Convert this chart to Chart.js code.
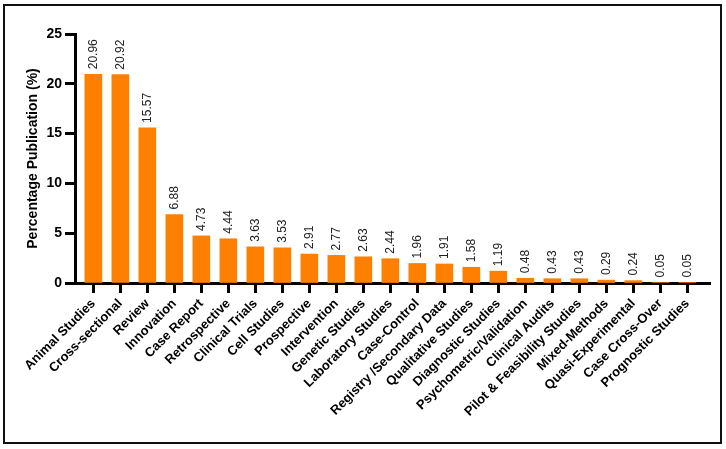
<!DOCTYPE html>
<html>
<head>
<meta charset="utf-8">
<script src="https://cdn.jsdelivr.net/npm/chart.js@4/dist/chart.umd.min.js"></script>
<style>
html,body{margin:0;padding:0;background:#fff}
#wrap{position:relative;width:726px;height:449px}
</style>
</head>
<body>
<div id="wrap"><canvas id="c" width="726" height="449"></canvas></div>
<script>
// ─── DATA ───────────────────────────────────────────────────
const categories=['Animal Studies','Cross-sectional','Review','Innovation','Case Report','Retrospective',
  'Clinical Trials','Cell Studies','Prospective','Intervention','Genetic Studies','Laboratory Studies',
  'Case-Control','Registry /Secondary Data','Qualitative Studies','Diagnostic Studies',
  'Psychometric/Validation','Clinical Audits','Pilot & Feasibility Studies','Mixed-Methods',
  'Quasi-Experimental','Case Cross-Over','Prognostic Studies'];
const percentages=[20.96,20.92,15.57,6.88,4.73,4.44,3.63,3.53,2.91,2.77,2.63,2.44,1.96,1.91,1.58,1.19,0.48,0.43,0.43,0.29,0.24,0.05,0.05];
const yTicks=[0,5,10,15,20,25];
const yTitle='Percentage Publication (%)';

const FONT="'Liberation Sans', Arial, sans-serif";

// ─── PLUGINS ────────────────────────────────────────────────
// frame round the whole figure
const framePlugin={id:'frame',
  beforeDraw(chart){const ctx=chart.ctx;ctx.save();ctx.fillStyle='#fff';ctx.fillRect(0,0,chart.width,chart.height);ctx.restore()},
  afterDraw(chart){const ctx=chart.ctx;ctx.save();ctx.strokeStyle='#111';ctx.lineWidth=2;ctx.strokeRect(4,5,717,438);ctx.restore()}
};
// vertical value labels above each bar
const valueLabels={id:'valueLabels',
  afterDatasetsDraw(chart){
    const ctx=chart.ctx;const meta=chart.getDatasetMeta(0);
    ctx.save();ctx.font='12px '+FONT;ctx.fillStyle='#222';ctx.textAlign='left';ctx.textBaseline='middle';
    meta.data.forEach((bar,i)=>{ctx.save();ctx.translate(bar.x,bar.y-5);ctx.rotate(-Math.PI/2);ctx.fillText(percentages[i].toFixed(2),0,0);ctx.restore()});
    ctx.restore()}
};

// x is a linear index scale so the axis can run past the first/last bar like the original
new Chart(document.getElementById('c'),{
  type:'bar',
  data:{datasets:[{data:percentages.map((v,i)=>({x:i,y:v})),backgroundColor:'#FF8000',borderWidth:0,barThickness:17}]},
  options:{
    responsive:false,animation:false,
    layout:{padding:{top:34,right:16,left:0,bottom:0}},
    plugins:{legend:{display:false},tooltip:{enabled:false}},
    scales:{
      x:{type:'linear',min:-0.68,max:22.84,bounds:'data',offset:false,
        afterBuildTicks(s){s.ticks=categories.map((_,i)=>({value:i}))},
        afterFit(s){s.height=166;s.paddingLeft=0;s.paddingRight=0},
        grid:{offset:false,drawOnChartArea:false,drawTicks:true,tickLength:10,tickWidth:3,tickColor:'#000'},
        border:{display:true,width:3,color:'#000'},
        ticks:{autoSkip:false,minRotation:45,maxRotation:45,padding:3,color:'#000',font:{family:FONT,size:13,weight:'bold'},
          callback:v=>categories[v]}},
      y:{min:0,max:25,
        afterBuildTicks(s){s.ticks=yTicks.map(v=>({value:v}))},
        afterFit(s){s.width=75},
        grid:{drawOnChartArea:false,drawTicks:true,tickLength:10,tickWidth:3,tickColor:'#000'},
        border:{display:true,width:3,color:'#000'},
        ticks:{padding:3,color:'#000',font:{family:FONT,size:14,weight:'bold'}},
        title:{display:true,text:yTitle,color:'#000',padding:{top:25,bottom:0},font:{family:FONT,size:14,weight:'bold'}}}
    }
  },
  plugins:[framePlugin,valueLabels]
});
</script>
</body>
</html>
